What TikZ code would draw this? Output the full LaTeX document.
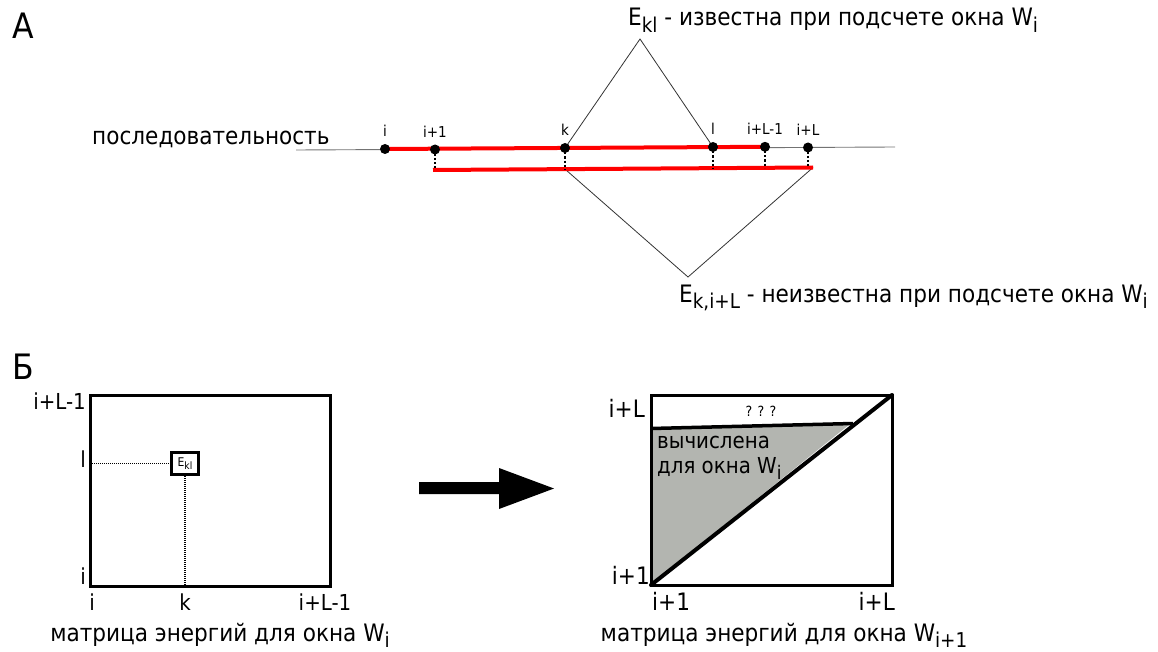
\documentclass[tikz,border=0pt]{standalone}
\usepackage{fontspec}
\setmainfont{DejaVu Sans}[FakeStretch=0.9]
\usetikzlibrary{arrows.meta}
% lowered, slightly smaller index text
\newcommand\lowsub[1]{\raisebox{-0.28em}{\scalebox{0.85}{#1}}}
\definecolor{known}{HTML}{B3B5B0}
\begin{document}
\begin{tikzpicture}[x=1pt,y=-1pt,
  lbl/.style={font=\fontsize{24}{28}\selectfont, inner sep=0pt},
  axis/.style={font=\fontsize{22}{26}\selectfont, inner sep=0pt},
  big/.style={font=\fontsize{35}{40}\selectfont, inner sep=0pt},
  tick/.style={font=\fontsize{15}{17}\selectfont, inner sep=0pt},
  tiny/.style={font=\fontsize{14}{16}\selectfont, inner sep=0pt},
  seqdot/.style={circle, fill=black, inner sep=0pt, minimum size=10pt},
  seqline/.style={line width=0.9pt, draw=black!55},
  window/.style={draw=red, line width=4pt},
  drop/.style={line width=2.4pt, dash pattern=on 2.2pt off 2pt},
  thinline/.style={line width=0.8pt, draw=black!80},
  frame/.style={draw, line width=3pt},
  guide/.style={line width=1.1pt, dash pattern=on 1pt off 1pt}
]
\useasboundingbox (0,0) rectangle (1158,652);

% ---------------- part A: the sequence and the two windows
\node[big, anchor=base west] (labA) at (12,39) {А};
\node[lbl, anchor=base west] (seq) at (92,145) {последовательность};

\coordinate (s0) at (296,150);
\coordinate (s9) at (895,147);
\coordinate (ci)  at (385,149);
\coordinate (ci1) at (435,149.5);
\coordinate (ck)  at (565,148);
\coordinate (cl)  at (713,147);
\coordinate (cL1) at (765,146.8);
\coordinate (cL)  at (808,147.5);
% lower window
\coordinate (wa) at (433,170);
\coordinate (wb) at (813,167.5);
\coordinate (ei1) at (435,170);
\coordinate (ek)  at (565,169.1);
\coordinate (el)  at (713,168.2);
\coordinate (eL1) at (765,167.8);
\coordinate (eL)  at (808,167.5);
% triangle apexes
\coordinate (top) at (640,39);
\coordinate (bot) at (688,277);

\draw[seqline] (s0) -- (s9);
\draw[thinline] (ck) -- (top) -- (cl);
\draw[thinline] (ek) -- (bot) -- (wb);
\draw[window] (ci) -- (cL1);
\draw[window] (wa) -- (wb);
\foreach \a/\b in {ci1/ei1, ck/ek, cl/el, cL1/eL1, cL/eL}
  \draw[drop] (\a) -- (\b);

\foreach \c/\t in {ci/i, ci1/i+1, ck/k, cl/l, cL1/i+L-1, cL/i+L}{
  \node[seqdot] (d\c) at (\c) {};
  \node[tick, anchor=base] (t\c) at ([yshift=12pt]\c) {\t};
}

\node[lbl, anchor=base west] (known) at (628,26)
  {E\lowsub{kl} - известна при подсчете окна W\lowsub{i}};
\node[lbl, anchor=base west] (unknown) at (679,302)
  {E\lowsub{k,i+L} - неизвестна при подсчете окна W\lowsub{i}};

% ---------------- part B, left: energy matrix of window W_i
\node[big, anchor=base west] (labB) at (12,379) {Б};
\draw[frame] (90,395) rectangle (330,586);
\node[draw, line width=3pt, minimum width=27pt, minimum height=22pt,
      inner sep=0pt, font=\fontsize{12}{14}\selectfont] (ekl) at (185,463.5) {E\lowsub{kl}};
\coordinate (gl) at (92,463.5);
\coordinate (gk) at (185,585);
\draw[guide] (gl) -- (ekl.west);
\draw[guide] (ekl.south) -- (gk);

\node[axis, anchor=base east] (yL1) at (86,409) {i+L-1};
\node[axis, anchor=base east] (yl)  at (86,467) {l};
\node[axis, anchor=base east] (yi)  at (86,584) {i};
\node[axis, anchor=base] (xi)  at (92,610) {i};
\node[axis, anchor=base] (xk)  at (185,610) {k};
\node[axis, anchor=base] (xL1) at (325,610) {i+L-1};
\node[lbl, anchor=base] (capL) at (220,641) {матрица энергий для окна W\lowsub{i}};

% ---------------- transition arrow
\fill (419,482) -- (499,482) -- (499,468) -- (554,488.5) -- (499,509)
  -- (499,494) -- (419,494) -- cycle;

% ---------------- part B, right: energy matrix of window W_{i+1}
\fill[known] (652,429) -- (850,424) -- (652,583) -- cycle;
\draw[frame] (651,395) rectangle (892,585);
\draw[line width=3.5pt] (651,428.5) -- (853,423.5);
\draw[line width=4pt, line cap=round] (651,585) -- (892,395);

\node[tiny, anchor=base] (qqq) at (761,416) {? ? ?};
\node[axis, anchor=base west] (done1) at (657,448) {вычислена};
\node[axis, anchor=base west] (done2) at (657,473) {для окна W\lowsub{i}};

\node[lbl, anchor=base east] (ryL) at (645,417) {i+L};
\node[lbl, anchor=base east] (ry1) at (650,584) {i+1};
\node[lbl, anchor=base west] (rx1) at (652,610) {i+1};
\node[lbl, anchor=base east] (rxL) at (895,610) {i+L};
\node[lbl, anchor=base] (capR) at (784,641) {матрица энергий для окна W\lowsub{i+1}};
\end{tikzpicture}
\end{document}
